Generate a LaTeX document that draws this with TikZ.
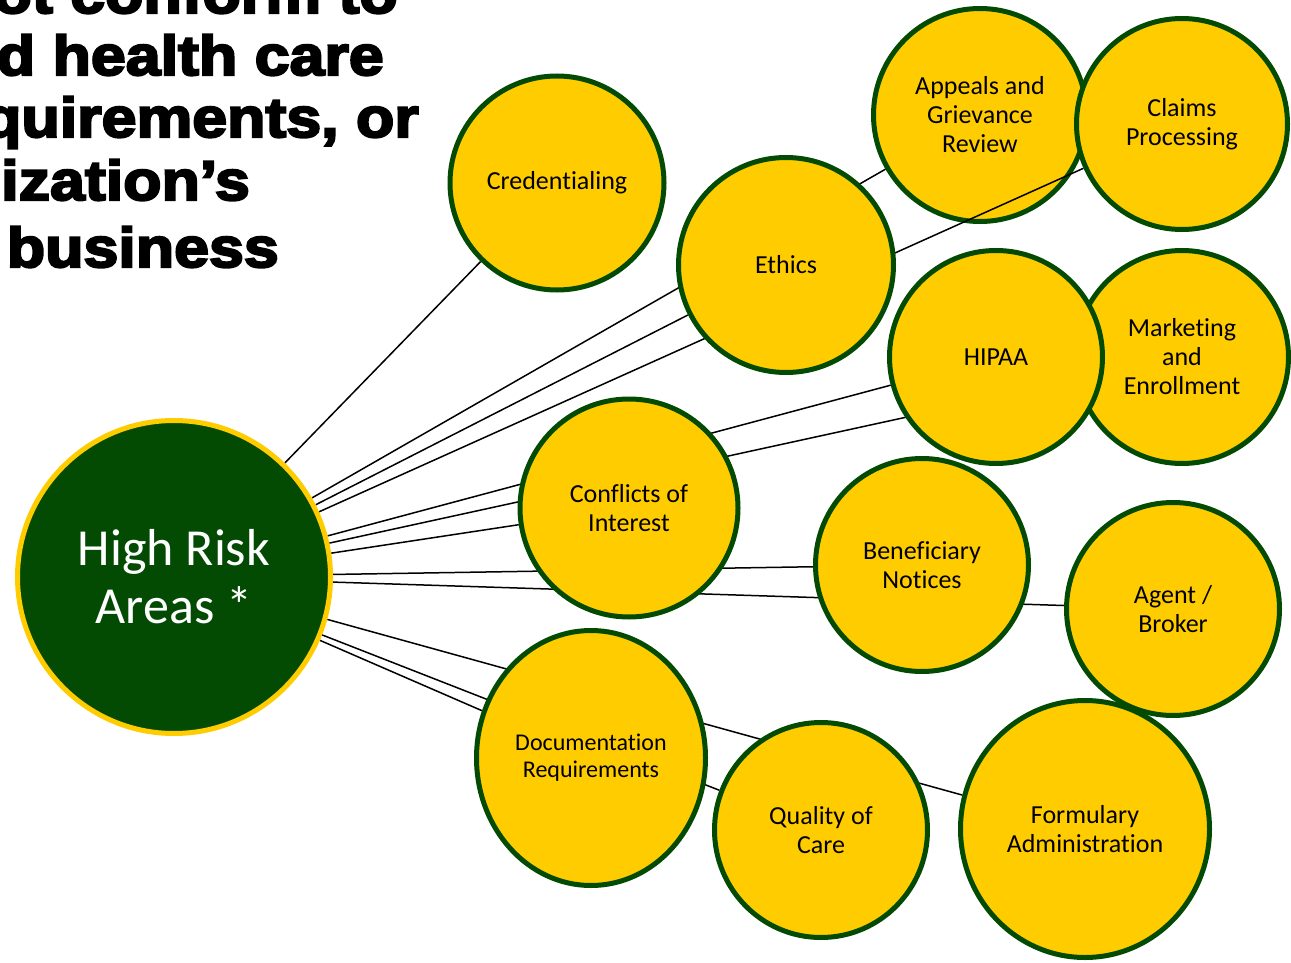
\documentclass[tikz,border=0pt]{standalone}
\usepackage{fontspec}
\setmainfont{Carlito}[Ligatures={NoCommon,NoContextual}]
\newfontfamily\titlefont{Liberation Sans}[FakeStretch=1.12,FakeBold=4]
\usetikzlibrary{shapes.geometric}
\pgfdeclarelayer{back}
\pgfdeclarelayer{lines}
\pgfsetlayers{back,lines,main}
\definecolor{gold}{RGB}{255,204,0}
\definecolor{dgreen}{RGB}{3,75,3}
\begin{document}
\begin{tikzpicture}[x=1pt,y=-1pt,
  bubble/.style={ellipse, draw=dgreen, line width=5pt, fill=gold, inner sep=0pt,
    align=center, text=black, font=\fontsize{26}{29}\selectfont},
  hub/.style={ellipse, draw=gold, line width=5pt, fill=dgreen, inner sep=0pt,
    align=center, text=white, font=\fontsize{52}{58}\selectfont},
  link/.style={line width=1.5pt, black},
  titleline/.style={anchor=base east, inner sep=0pt,
    font=\titlefont\bfseries\fontsize{56}{63}\selectfont}]
\useasboundingbox (0,0) rectangle (1291,963);
\clip (0,0) rectangle (1291,963);

% title fragment
\node[titleline] (t1) at (398,13) {not conform to};
\node[titleline] (t2) at (384,75) {d health care};
\node[titleline] (t3) at (419,137) {quirements, or};
\node[titleline] (t4) at (250,200) {nization’s};
\node[titleline] (t5) at (279,267) {d business};

% bubbles
\begin{pgfonlayer}{back}
\node[bubble, minimum width=213pt, minimum height=213pt] (app) at (980,115) {Appeals and\\Grievance\\Review};
\end{pgfonlayer}
\node[hub, minimum width=313pt, minimum height=313pt] (hr) at (174,577) {High Risk\\Areas *};
\node[bubble, minimum width=214pt, minimum height=214pt] (cred) at (557,183) {Credentialing};
\node[bubble, minimum width=215pt, minimum height=215pt] (eth) at (786,265) {Ethics};
\node[bubble, minimum width=211pt, minimum height=211pt] (claims) at (1182,124) {Claims\\Processing};
\node[bubble, minimum width=213pt, minimum height=213pt] (mkt) at (1182,357) {Marketing\\and\\Enrollment};
\node[bubble, minimum width=213pt, minimum height=213pt] (hipaa) at (996,357) {HIPAA};
\node[bubble, minimum width=218pt, minimum height=218pt] (coi) at (629,508) {Conflicts of\\Interest};
\node[bubble, minimum width=213pt, minimum height=213pt] (ben) at (922,565) {Beneficiary\\Notices};
\node[bubble, minimum width=213pt, minimum height=213pt] (agent) at (1173,609) {Agent /\\Broker};
\node[bubble, minimum width=229pt, minimum height=255pt, font=\fontsize{24}{27}\selectfont] (doc) at (591,758) {Documentation\\Requirements};
\node[bubble, minimum width=213pt, minimum height=215pt] (qual) at (821,830) {Quality of\\Care};
\node[bubble, minimum width=249pt, minimum height=257pt] (form) at (1085,829) {Formulary\\Administration};

% connectors
\begin{pgfonlayer}{lines}
\draw[link] (hr) -- (cred);
\draw[link] (hr) -- (app);
\draw[link] (hr) -- (eth);
\draw[link] (hr) -- (claims);
\draw[link] (hr) -- (hipaa);
\draw[link] (hr) -- (mkt);
\draw[link] (hr) -- (coi);
\draw[link] (hr) -- (ben);
\draw[link] (hr) -- (agent);
\draw[link] (hr) -- (doc);
\draw[link] (hr) -- (qual);
\draw[link] (hr) -- (form);
\end{pgfonlayer}
\end{tikzpicture}
\end{document}
